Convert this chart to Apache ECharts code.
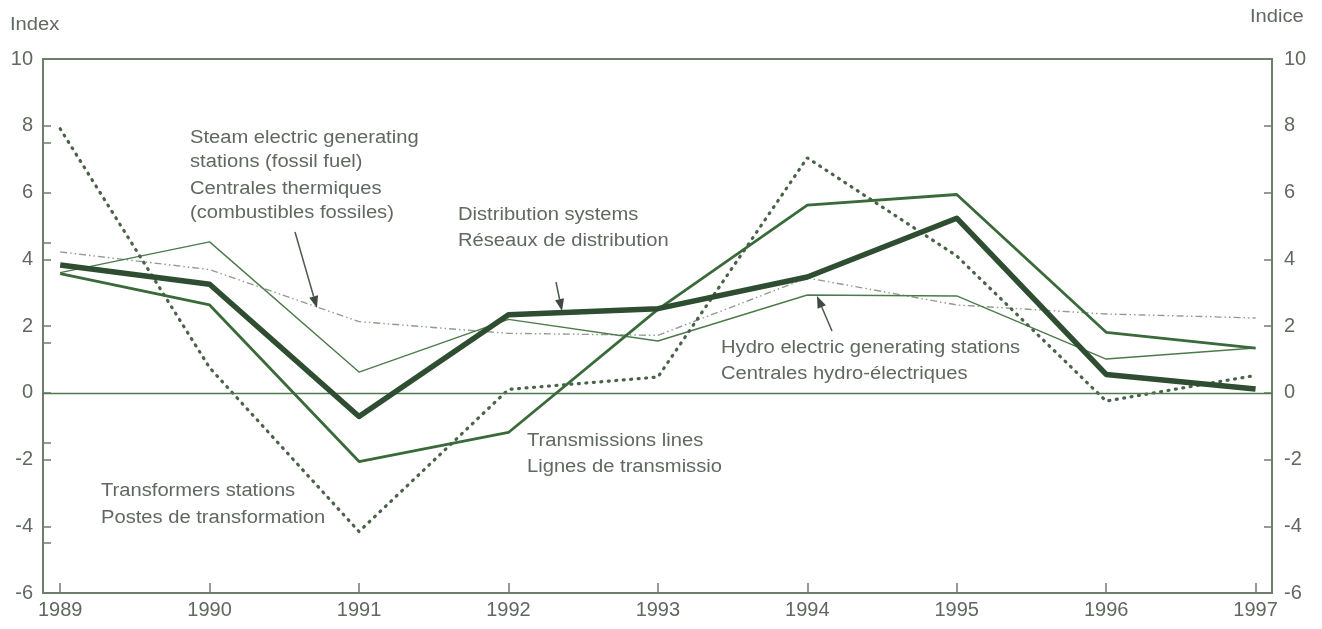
<!DOCTYPE html>
<html>
<head>
  <meta charset="utf-8">
  <title>Index / Indice</title>
  <script src="https://cdn.jsdelivr.net/npm/echarts@6.0.0/dist/echarts.min.js"></script>
  <style>
    html, body { margin: 0; padding: 0; background: #fff; }
    #chart { width: 1322px; height: 629px; }
  </style>
</head>
<body>
  <div id="chart"></div>
  <script>
    // data
    let years = [1989, 1990, 1991, 1992, 1993, 1994, 1995, 1996, 1997];
    let transformers = [7.91, 0.75, -4.16, 0.1, 0.47, 7.04, 4.1, -0.25, 0.52];
    let distribution = [3.83, 3.25, -0.71, 2.34, 2.52, 3.47, 5.23, 0.55, 0.11];
    let transmission = [3.57, 2.63, -2.06, -1.19, 2.5, 5.62, 5.94, 1.81, 1.34];
    let hydro = [3.6, 4.52, 0.62, 2.2, 1.55, 2.93, 2.9, 1.01, 1.34];
    let steam = [4.22, 3.69, 2.13, 1.78, 1.72, 3.44, 2.63, 2.36, 2.24];
    let yTicks = [-6, -4, -2, 0, 2, 4, 6, 8, 10];

    let axisColor = '#6d7f6b';
    let textColor = '#5f695f';
    let font = 'Liberation Sans, Arial, sans-serif';

    function pairs(vals) {
      return years.map(function (y, i) { return [y, vals[i]]; });
    }

    // annotation text
    function label(x, y, txt) {
      return {
        type: 'text', x: x, y: y, scaleX: 1.12,
        style: { text: txt, fill: textColor, font: '18px ' + font, textVerticalAlign: 'middle' }
      };
    }

    // small arrow from (x1,y1) to (x2,y2)
    function arrow(x1, y1, x2, y2) {
      let a = Math.atan2(y2 - y1, x2 - x1);
      let len = 12, w = 4.5;
      let bx = x2 - len * Math.cos(a), by = y2 - len * Math.sin(a);
      let px = -Math.sin(a) * w, py = Math.cos(a) * w;
      return [
        { type: 'line', shape: { x1: x1, y1: y1, x2: bx, y2: by }, style: { stroke: '#4d5a4d', lineWidth: 1.5 } },
        { type: 'polygon', shape: { points: [[x2, y2], [bx + px, by + py], [bx - px, by - py]] }, style: { fill: '#3d4a3d' } }
      ];
    }

    let graphics = [
      label(190, 138, 'Steam electric generating'),
      label(190, 162, 'stations (fossil fuel)'),
      label(190, 189, 'Centrales thermiques'),
      label(190, 213, '(combustibles fossiles)'),
      label(458, 215, 'Distribution systems'),
      label(458, 241, 'Réseaux de distribution'),
      label(721, 348, 'Hydro electric generating stations'),
      label(721, 374, 'Centrales hydro-électriques'),
      label(527, 441, 'Transmissions lines'),
      label(527, 467, 'Lignes de transmissio'),
      label(101, 491, 'Transformers stations'),
      label(101, 518, 'Postes de transformation'),
      label(10, 25, 'Index'),
      label(1250, 17, 'Indice')
    ].concat(arrow(295, 232, 317, 308))
     .concat(arrow(556, 282, 562, 311))
     .concat(arrow(832, 331, 817, 296));

    let myChart = echarts.init(document.getElementById('chart'));
    let option = {
      animation: false,
      backgroundColor: '#ffffff',
      grid: {
        left: 43, right: 50, top: 59, bottom: 36,
        show: true, borderColor: axisColor, borderWidth: 2
      },
      xAxis: {
        type: 'value',
        min: 1988.885,
        max: 1997.11,
        splitLine: { show: false },
        axisLine: { onZero: false, lineStyle: { color: axisColor, width: 2 } },
        axisTick: { show: true, inside: true, length: 10, customValues: years, lineStyle: { color: axisColor, width: 1.5 } },
        axisLabel: { customValues: years, color: textColor, fontSize: 20, fontFamily: font, margin: 7,
          formatter: function (v) { return String(v); } }
      },
      yAxis: [
        {
          type: 'value', position: 'left', min: -6, max: 10,
          splitLine: { show: false },
          axisLine: { show: true, lineStyle: { color: axisColor, width: 2 } },
          axisTick: { show: true, inside: true, length: 8, customValues: yTicks, lineStyle: { color: axisColor, width: 1.5 } },
          minorTick: { show: true, splitNumber: 2, length: 8, lineStyle: { color: axisColor, width: 1.5 } },
          axisLabel: { customValues: yTicks, color: textColor, fontSize: 20, fontFamily: font, margin: 10 }
        },
        {
          type: 'value', position: 'right', min: -6, max: 10,
          splitLine: { show: false },
          axisLine: { show: true, lineStyle: { color: axisColor, width: 2 } },
          axisTick: { show: true, inside: true, length: 8, customValues: yTicks, lineStyle: { color: axisColor, width: 1.5 } },
          axisLabel: { customValues: yTicks, color: textColor, fontSize: 20, fontFamily: font, margin: 12 }
        }
      ],
      graphic: graphics,
      series: [
        {
          name: 'Steam electric generating stations', type: 'line', data: pairs(steam),
          symbol: 'none', z: 2,
          lineStyle: { color: '#8f9d8f', width: 1.4, type: [7, 3, 1.5, 3, 1.5, 3] }
        },
        {
          name: 'Hydro electric generating stations', type: 'line', data: pairs(hydro),
          symbol: 'none', z: 3,
          lineStyle: { color: '#4d7a4b', width: 1.4 },
          markLine: {
            silent: true, symbol: 'none', label: { show: false },
            lineStyle: { color: '#4f7a4d', width: 1.3, type: 'solid' },
            data: [{ yAxis: 0 }]
          }
        },
        {
          name: 'Transformers stations', type: 'line', data: pairs(transformers),
          symbol: 'none', z: 4,
          lineStyle: { color: '#4a6348', width: 3.2, type: [1, 6.5], cap: 'round' }
        },
        {
          name: 'Transmissions lines', type: 'line', data: pairs(transmission),
          symbol: 'none', z: 5,
          lineStyle: { color: '#3b6a3a', width: 2.8 }
        },
        {
          name: 'Distribution systems', type: 'line', data: pairs(distribution),
          symbol: 'none', z: 6,
          lineStyle: { color: '#2f4d30', width: 5.5, join: 'round' }
        }
      ]
    };
    myChart.setOption(option);
  </script>
</body>
</html>
